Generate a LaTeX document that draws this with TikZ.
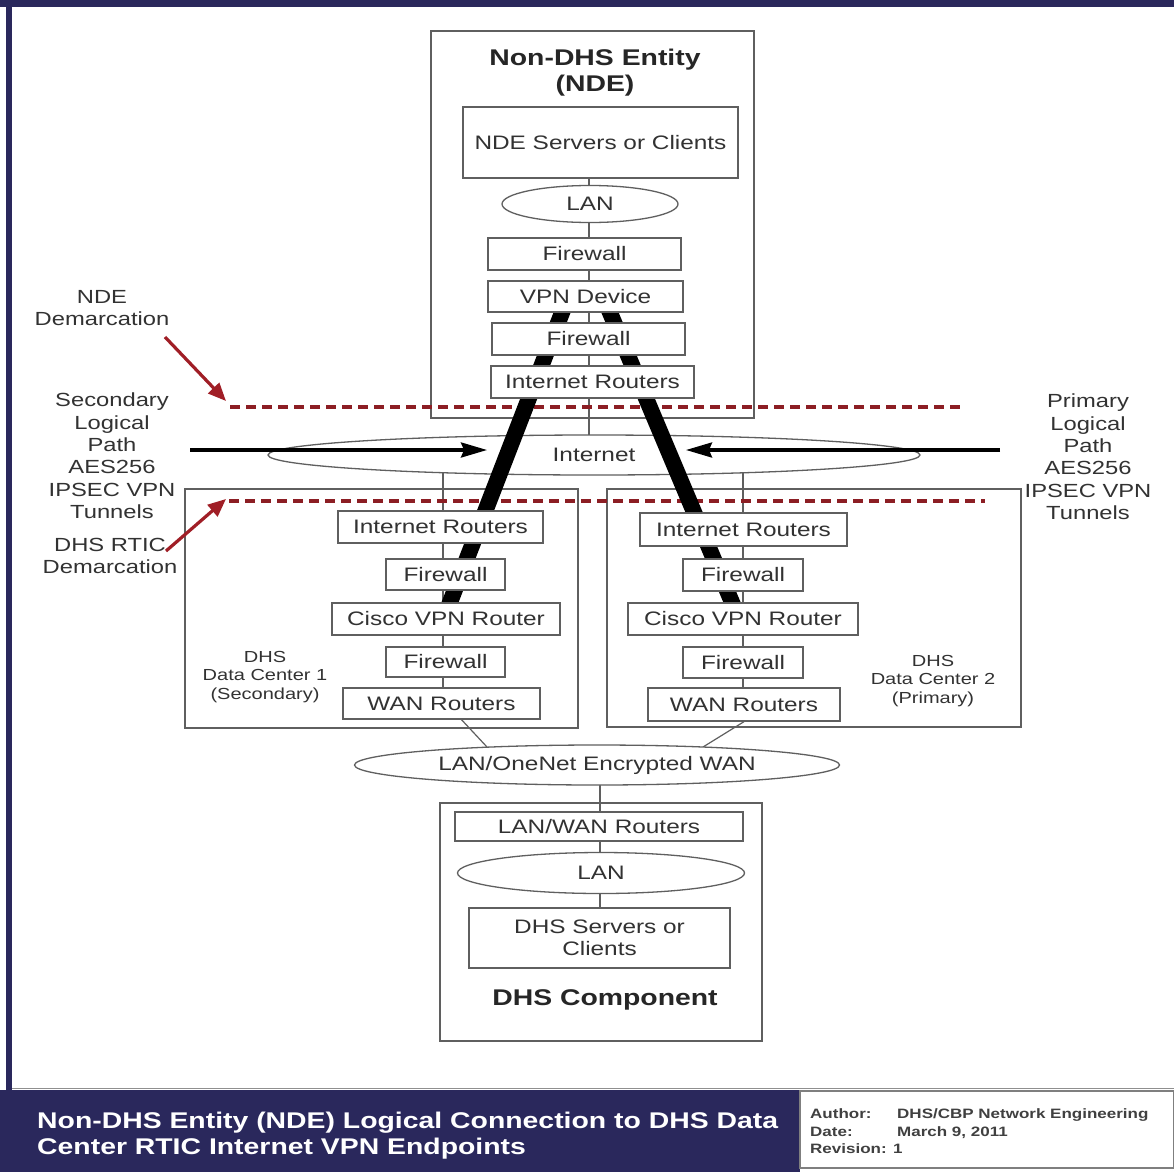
\documentclass[tikz,border=0pt]{standalone}
\usepackage{fontspec}
\setmainfont{Liberation Sans}[FakeStretch=1.25]
\usetikzlibrary{arrows.meta,shapes.geometric,calc,backgrounds}
\definecolor{navy}{RGB}{42,40,92}
\definecolor{boxline}{RGB}{95,95,95}
\definecolor{txt}{RGB}{50,50,50}
\definecolor{demarc}{RGB}{140,30,36}
\definecolor{demarrowc}{RGB}{160,30,38}
\pgfdeclarelayer{bg}
\pgfdeclarelayer{mid}
\pgfsetlayers{bg,mid,main}
\tikzset{
 box/.style={draw=boxline, line width=1.3pt, fill=white, inner sep=0pt, text=txt, font=\fontsize{19.5}{22}\selectfont},
 oval/.style={ellipse, draw=boxline, line width=1.3pt, fill=white, inner sep=0pt, text=txt, font=\fontsize{19.5}{22}\selectfont},
 container/.style={draw=boxline, line width=1.3pt, inner sep=0pt},
 conn/.style={draw=boxline, line width=1.2pt},
 tunnel/.style={line width=16pt, black, shorten <=-10pt, shorten >=-10pt},
 demline/.style={demarc, line width=3.5pt, dash pattern=on 10pt off 6pt},
 demarrow/.style={demarrowc, line width=3.2pt, -{Triangle[length=18pt,width=15pt]}},
 patharrow/.style={black, line width=3.2pt, -{Stealth[length=26pt,width=15pt,inset=3pt]}},
 sidelabel/.style={align=center, text=txt, font=\fontsize{19}{22.4}\selectfont, inner sep=0pt},
 dclabel/.style={align=center, text=txt, font=\fontsize{16}{18.5}\selectfont, inner sep=0pt},
 heading/.style={align=center, text=black!85, font=\bfseries\fontsize{22.7}{26}\selectfont, inner sep=0pt},
 bannertext/.style={anchor=base west, text=white, font=\bfseries\fontsize{22.7}{26}\selectfont, inner sep=0pt},
 authtext/.style={anchor=base west, text=black!75, font=\bfseries\fontsize{13.6}{17.5}\selectfont, inner sep=0pt},
}
\begin{document}
\begin{tikzpicture}[x=1pt,y=-1pt]
\useasboundingbox (0,0) rectangle (1174,1172);
\begin{pgfonlayer}{bg}
 \fill[white] (0,0) rectangle (1174,1172);
 \fill[navy] (0,0) rectangle (1174,7);
 \fill[navy] (6,0) rectangle (12,1090);
 % containers
 \node[container, minimum width=323pt, minimum height=387pt] (nde) at (592.5,224.5) {};
 \node[container, minimum width=393pt, minimum height=239pt] (dc1) at (381.5,608.5) {};
 \node[container, minimum width=414pt, minimum height=238pt] (dc2) at (814,608) {};
 \node[container, minimum width=322pt, minimum height=238pt] (comp) at (601,922) {};
\end{pgfonlayer}

% NDE
\node[heading] (ndetitle) at (595,73) {Non-DHS Entity\\(NDE)};
\node[box, minimum width=275pt, minimum height=71pt] (servers) at (600.5,142.5) {NDE Servers or Clients};
\node[oval, minimum width=176pt, minimum height=37pt] (lan1) at (590,204) {LAN};
\node[box, minimum width=193pt, minimum height=32pt] (fw1) at (584.5,254) {Firewall};
\node[box, minimum width=195pt, minimum height=31pt] (vpn) at (585.5,296.5) {VPN Device};
\node[box, minimum width=193pt, minimum height=32pt] (fw2) at (588.5,339) {Firewall};
\node[box, minimum width=203pt, minimum height=32pt] (ir0) at (592.5,382) {Internet Routers};

\begin{pgfonlayer}{mid}
 \node[oval, minimum width=652pt, minimum height=40pt] (internet) at (594,455) {Internet};
\end{pgfonlayer}

% DC1
\node[box, minimum width=205pt, minimum height=32pt] (ir1) at (440.5,527) {Internet Routers};
\node[box, minimum width=119pt, minimum height=31pt] (fw1a) at (445.5,574.5) {Firewall};
\node[box, minimum width=228pt, minimum height=32pt] (cisco1) at (446,619) {Cisco VPN Router};
\node[box, minimum width=119pt, minimum height=30pt] (fw1b) at (445.5,662) {Firewall};
\node[box, minimum width=197pt, minimum height=31pt] (wan1) at (441.5,703.5) {WAN Routers};
\node[dclabel] (dc1lbl) at (265,677) {DHS\\Data Center 1\\(Secondary)};

% DC2
\node[box, minimum width=207pt, minimum height=33pt] (ir2) at (743.5,529.5) {Internet Routers};
\node[box, minimum width=120pt, minimum height=32pt] (fw2a) at (743,575) {Firewall};
\node[box, minimum width=230pt, minimum height=32pt] (cisco2) at (743,619) {Cisco VPN Router};
\node[box, minimum width=120pt, minimum height=31pt] (fw2b) at (743,662.5) {Firewall};
\node[box, minimum width=192pt, minimum height=33pt] (wan2) at (744,704.5) {WAN Routers};
\node[dclabel] (dc2lbl) at (933,681) {DHS\\Data Center 2\\(Primary)};

% WAN and DHS component
\node[oval, minimum width=485pt, minimum height=40pt] (lanwan) at (597,765) {LAN/OneNet Encrypted WAN};
\node[box, minimum width=288pt, minimum height=29pt] (lanwanr) at (599,826.5) {LAN/WAN Routers};
\node[oval, minimum width=287pt, minimum height=41pt] (lan2) at (601,873) {LAN};
\node[box, minimum width=261pt, minimum height=60pt, align=center] (dhsserv) at (599.5,938) {DHS Servers or\\Clients};
\node[heading] (comptitle) at (605,1000) {DHS Component};

% side labels
\node[sidelabel] (ndelbl) at (102,308) {NDE\\Demarcation};
\node[sidelabel] (seclbl) at (112,456) {Secondary\\Logical\\Path\\AES256\\IPSEC VPN\\Tunnels};
\node[sidelabel] (rticlbl) at (110,556) {DHS RTIC\\Demarcation};
\node[sidelabel] (prilbl) at (1088,457) {Primary\\Logical\\Path\\AES256\\IPSEC VPN\\Tunnels};

% coordinates
\coordinate (sp0) at (589,0);
\coordinate (sp1) at (443,0);
\coordinate (sp2) at (743,0);
\coordinate (sp3) at (600,0);
\coordinate (demTopL) at (230,407);
\coordinate (demTopR) at (965,407);
\coordinate (demBotL) at (229,501);
\coordinate (demBotR) at (985,501);
\coordinate (ndeArrS) at (165,337);
\coordinate (ndeArrE) at (226,401);
\coordinate (rticArrS) at (166,551);
\coordinate (rticArrE) at (226,499);
\coordinate (secS) at (190,450);
\coordinate (secE) at (487,450);
\coordinate (priS) at (1000,450);
\coordinate (priE) at (686,450);

% thin connectors
\begin{pgfonlayer}{bg}
 \draw[conn] (servers.center -| sp0) -- (lan1.center -| sp0) -- (fw1.center -| sp0) -- (vpn.center -| sp0) -- (fw2.center -| sp0) -- (ir0.center -| sp0) -- (internet.center -| sp0);
 \draw[conn] (internet.center -| sp1) -- (ir1.center -| sp1) -- (fw1a.center -| sp1) -- (cisco1.center -| sp1) -- (fw1b.center -| sp1) -- (wan1.center -| sp1);
 \draw[conn] (internet.center -| sp2) -- (ir2.center -| sp2) -- (fw2a.center -| sp2) -- (cisco2.center -| sp2) -- (fw2b.center -| sp2) -- (wan2.center -| sp2);
 \draw[conn] ($(wan1.south)+(20,0)$) -- ($(lanwan.center)+(-110,-18)$);
 \draw[conn] (wan2.south) -- ($(lanwan.center)+(106,-18)$);
 \draw[conn] (lanwan.center -| sp3) -- (lanwanr.center -| sp3) -- (lan2.center -| sp3) -- (dhsserv.center -| sp3);
\end{pgfonlayer}

% demarcation lines and tunnels
\begin{pgfonlayer}{mid}
 \draw[demline] (demTopL) -- (demTopR);
 \draw[demline] (demBotL) -- (demBotR);
 \draw[tunnel] ($(vpn.south)+(-23.5,0)$) -- ($(cisco1.north)+(4,0)$);
 \draw[tunnel] ($(vpn.south)+(24.5,0)$) -- ($(cisco2.north)+(-11,0)$);
\end{pgfonlayer}

% arrows
\draw[demarrow] (ndeArrS) -- (ndeArrE);
\draw[demarrow] (rticArrS) -- (rticArrE);
\draw[patharrow] (secS) -- (secE);
\draw[patharrow] (priS) -- (priE);

% banner
\draw[boxline!70, line width=1pt] (12,1088) -- (1174,1088);
\fill[navy] (0,1090) rectangle (800,1172);
\filldraw[fill=white, draw=boxline!80, line width=1.2pt] (800,1091) rectangle (1174,1168);
\node[bannertext] (title1) at (37,1128) {Non-DHS Entity (NDE) Logical Connection to DHS Data};
\node[bannertext] (title2) at (37,1154) {Center RTIC Internet VPN Endpoints};
\node[authtext] (auth1) at (810,1118) {Author:};
\node[authtext] (auth1v) at (897,1118) {DHS/CBP Network Engineering};
\node[authtext] (auth2) at (810,1136) {Date:};
\node[authtext] (auth2v) at (897,1136) {March 9, 2011};
\node[authtext] (auth3) at (810,1153) {Revision: 1};
\end{tikzpicture}
\end{document}
